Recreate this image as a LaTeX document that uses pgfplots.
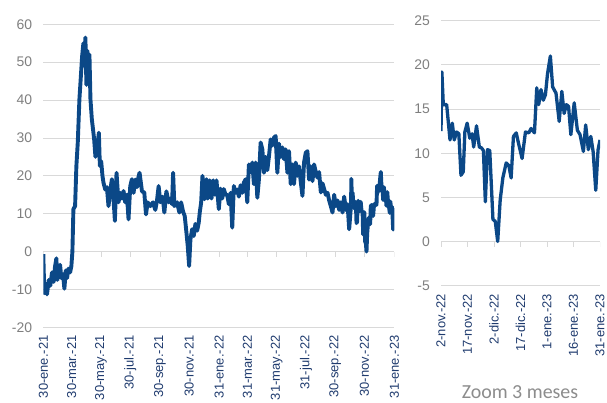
\documentclass[border=0pt]{standalone}
\usepackage{pgfplots}
\pgfplotsset{compat=1.18}
\usepackage{pgfplotstable}
\usepackage{fontspec}
\setmainfont{Liberation Sans}
\newfontfamily\titlefont{Carlito}

\definecolor{serie}{HTML}{0B4887}
\definecolor{rejilla}{HTML}{D9D9D9}
\definecolor{ejey}{HTML}{7F7F7F}
\definecolor{ejex}{HTML}{1F3B6E}
\definecolor{titulo}{HTML}{8C8C8C}

% dias desde 30-ene-21
\pgfplotstableread{
d v
0 -0.7
2.1 -11
5 -8.5
7.7 -11.3
11.3 -7.5
14.6 -9
18.2 -5.5
21.7 -8
24.4 -4
27.2 -1.8
29.2 -7.5
32.2 -5.5
34.9 -3.5
37.6 -7
41.1 -6
43.9 -9.8
46.8 -5
49.5 -7
52.2 -4.5
55.8 -5.5
58.5 -3.8
60.6 0
62.7 11.2
66.2 12
68.9 22.6
71.8 28.8
75.2 40.2
78.1 46
80.8 51.5
83.5 55
85.6 49
87.7 56.5
89.8 44
91.9 53
94 46
96.1 52
98.2 40.2
101.1 34.9
103.8 32
105.9 29.6
108.6 25
110.1 27
113.6 28.8
115.7 31.4
117.8 22.6
120.5 23.9
123.2 20
125.3 18.2
128.9 16.4
132.4 17
135.8 12
139.3 16
142.9 19.1
145.6 15.2
149.1 8.1
152.5 20.8
156.6 13
160.2 15.5
163.7 14
167.1 16
170.6 13
174.2 15
177.5 8.5
181.1 17.3
184.6 19.1
188 15.5
191.5 19
195.1 17
197.8 19.5
200.5 20.8
205.5 15.9
210.3 15.6
213.9 9.8
217.2 13
222.9 12
228.5 13
233.3 11
236.8 13.5
240.2 17.3
243.7 13
248.5 14.5
252.1 10.3
256.3 15.9
261.1 13
264.6 14
268.2 12.5
270.3 20.8
273 12
278.6 13
283.4 10.3
287 13
291.2 10.5
294.5 9.4
297.4 5.9
300.8 1.5
303.7 -3.8
306.4 3.2
310 5.9
313.3 4.1
316.8 7.3
320.4 5.5
323.7 7.6
325.8 10.3
328.7 12.9
331.5 20
335.6 13.8
339.8 19.1
342.5 14
346.7 18.8
350.3 14
353.8 18.8
357.2 15
360.7 18.8
365.5 11.2
369.1 16.6
372.6 14
375.9 16.5
379.5 15
383 15
386.4 12.5
390 15.5
393.5 6.3
396.8 17.3
400.4 15.5
403.9 16.4
407.3 14.5
410.8 17.5
414.4 15.5
417.7 18.2
421.3 19.1
424.8 13
428.2 23
431.7 21
435.3 23.5
438.6 17.8
442.2 23.5
445.7 14.2
449.1 19.1
452.6 28.8
456.2 27
459.5 20.8
463 25
466.6 21.5
470 25.2
473.5 29.6
477 28
480.4 30.1
483.9 30.5
487.4 20.8
490.8 28.5
494.4 25
497.9 27.5
501.3 24.4
504.8 27
508.4 20.8
511.7 26.5
515.3 17.8
518.8 23
522.1 17.8
525.7 23.5
529.2 20
532.6 22.5
536.1 18.5
539.7 14.7
543 23.5
546.6 26.1
550.1 26.5
553.5 19
557 22.5
560.6 18.6
563.9 23
567.5 21
571 19.5
574.4 21
578 15.6
581.5 18
584.9 16.5
588.4 15
592 15.5
595.3 13.5
598.8 12
602.3 10.3
605.7 15
609.3 12
612.8 13.5
616.1 11
619.7 13
623.2 10.3
626.6 14.5
630.1 11
633.7 12.5
637 5.9
641 12.5
}\tablatotal

% dias desde 2-nov-22
\pgfplotstableread{
d v
0 12.5
0.5 19.2
1.3 15.5
3.2 15.5
5.1 11.5
6.4 13.4
7.5 11.5
8.8 12.4
10.1 12.2
11.3 7.5
12.6 7.9
13.5 12.4
14.8 13.4
16.3 11.7
17.6 12.2
18.5 10.7
20.1 13.1
21.7 10.7
22.9 10.6
24.0 10.3
25.1 4.5
26.3 10.4
27.6 10.3
29.4 2.5
30.7 2.3
32.1 0.0
33.5 4.7
35.0 7.2
36.9 8.9
38.4 8.6
39.7 7.2
41.0 11.9
42.6 12.3
43.9 11.1
45.9 9.4
47.8 12.4
49.7 12.3
51.0 12.8
52.9 12.3
54.2 17.4
55.3 15.5
56.6 17.2
57.9 16.0
59.1 16.6
60.3 19.0
61.9 21.0
63.2 17.5
65.1 16.8
66.9 13.6
68.4 17.0
69.7 14.5
71.0 15.5
72.2 15.3
73.5 12.1
75.4 15.7
77.2 12.6
78.7 12.1
80.6 10.2
81.9 13.2
83.4 10.4
84.8 11.9
86.1 10.2
87.6 5.8
88.9 10.4
90 11.5
}\tablazoom

\pgfplotsset{
  base/.style={
    scale only axis,
    axis line style={draw=none},
    major tick length=0pt,
    ymajorgrids,
    grid style={rejilla, line width=0.8bp},
    yticklabel style={ejey, inner sep=0pt, font=\fontsize{14}{14}\selectfont},
    yticklabel shift=11bp,
    xticklabel style={ejex, rotate=90, anchor=east, inner sep=0pt, font=\fontsize{13}{13}\selectfont},
    xticklabel shift=8bp,
    /pgf/number format/assume math mode=true,
  },
}

\begin{document}
\begin{tikzpicture}
\begin{axis}[base,
    at={(43.3bp,75.7bp)}, anchor=south west,
    width=351bp, height=303bp,
    xmin=0, xmax=731, ymin=-20, ymax=60,
    ytick={-20,-10,...,60},
    xtick={0,59,120,181,243,304,366,425,486,547,608,669,731},
    xticklabels={30-ene.-21,30-mar.-21,30-may.-21,30-jul.-21,30-sep.-21,30-nov.-21,31-ene.-22,31-mar.-22,31-may.-22,31-jul.-22,30-sep.-22,30-nov.-22,31-ene.-23},
]
\pgfplotsinvokeforeach{0,59,120,181,243,304,366,425,486,547,608,669,731}{
  \draw[rejilla, line width=0.8bp] (axis cs:#1,0) -- ([yshift=-5bp]axis cs:#1,0);
}
\addplot[serie, line width=3.9bp, line join=round] table[x=d, y=v] {\tablatotal};
\addplot[serie, line width=3.9bp, line join=round] table[x expr=\thisrow{d}+641, y=v] {\tablazoom};
\end{axis}

\begin{axis}[base,
    at={(441bp,117.3bp)}, anchor=south west,
    width=159bp, height=265bp,
    xmin=0, xmax=90, ymin=-5, ymax=25,
    ytick={-5,0,...,25},
    xtick={0,15,...,90},
    xticklabels={2-nov.-22,17-nov.-22,2-dic.-22,17-dic.-22,1-ene.-23,16-ene.-23,31-ene.-23},
]
\pgfplotsinvokeforeach{0,15,...,90}{
  \draw[rejilla, line width=0.8bp] (axis cs:#1,0) -- ([yshift=-5bp]axis cs:#1,0);
}
\addplot[serie, line width=3.3bp, line join=round] table[x=d, y=v] {\tablazoom};
\end{axis}

\node[anchor=base, text=titulo, font=\titlefont\fontsize{20}{20}\selectfont] at (520bp,5bp) {Zoom 3 meses};

\pgfresetboundingbox
\useasboundingbox (0,0) rectangle (607bp,403bp);
\end{tikzpicture}
\end{document}
